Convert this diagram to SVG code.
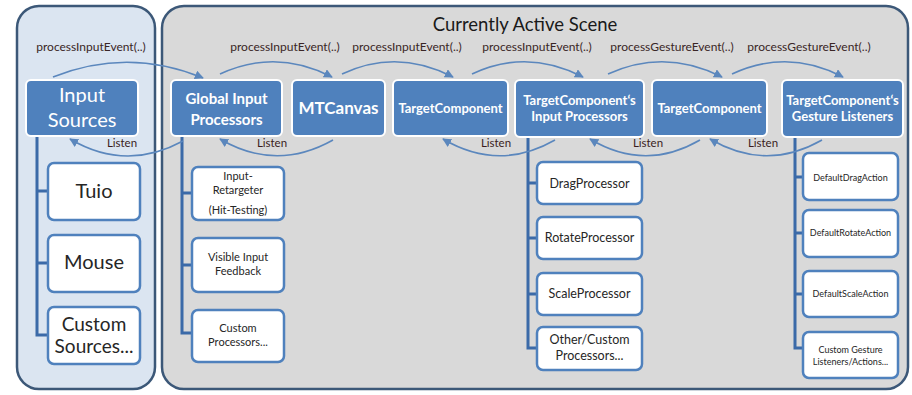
<svg xmlns="http://www.w3.org/2000/svg" width="912" height="395" viewBox="0 0 912 395">
  <style>
    text { font-family: Lato, "Open Sans", "Liberation Sans", sans-serif; text-anchor: middle; }
    .panel-src { fill: #dbe5f1; stroke: #3c5878; stroke-width: 2.5; }
    .panel-scene { fill: #d9d9d9; stroke: #3c5878; stroke-width: 2.5; }
    .head { fill: #4f81bd; stroke: #ffffff; stroke-width: 2; }
    .head-t { fill: #ffffff; font-weight: bold; }
    .item { fill: #ffffff; stroke: #4f81bd; stroke-width: 2.5; }
    .item-t { fill: #262626; }
    .tree { fill: none; stroke: #3b6aa8; stroke-width: 3; }
    .flow { fill: none; stroke: #5b87bd; stroke-width: 1.6; }
    .call { fill: #3a2626; font-size: 12px; }
    .listen { fill: #3a1c1c; font-size: 11.5px; }
    .title { fill: #1a1a1a; font-size: 18.5px; }
  </style>
  <defs>
    <marker id="arrow" viewBox="0 0 10 10" refX="9" refY="5" markerWidth="9" markerHeight="9" markerUnits="userSpaceOnUse" orient="auto">
      <path d="M0,0 L10,5 L0,10 z" fill="#5b87bd"/>
    </marker>
  </defs>

  <!-- containers -->
  <rect class="panel-src" x="17" y="6" width="138" height="383" rx="22"/>
  <rect class="panel-scene" x="162" y="6" width="746" height="383" rx="22"/>
  <text class="title" x="525" y="31">Currently Active Scene</text>

  <!-- tree branches -->
  <g id="trees">
    <path class="tree" d="M37,136 V335 H48 M37,191 H48 M37,263 H48"/>
    <path class="tree" d="M182,136 V333 H192 M182,193 H192 M182,265 H192"/>
    <path class="tree" d="M528,137 V348 H537 M528,183 H537 M528,238 H537 M528,294 H537"/>
    <path class="tree" d="M795,137 V348 H803 M795,177 H803 M795,233 H803 M795,294 H803"/>
  </g>

  <!-- input sources -->
  <g id="input-sources">
    <rect class="head" x="26" y="80" width="112" height="56" rx="5"/>
    <text class="head-t" x="82" y="102" font-size="20" style="font-weight:normal">Input</text>
    <text class="head-t" x="82" y="127" font-size="20" style="font-weight:normal">Sources</text>
  </g>
  <g id="tuio">
    <rect class="item" x="48" y="163" width="92" height="57" rx="6"/>
    <text class="item-t" x="94" y="198" font-size="20">Tuio</text>
  </g>
  <g id="mouse">
    <rect class="item" x="48" y="235" width="92" height="57" rx="6"/>
    <text class="item-t" x="94" y="269" font-size="20">Mouse</text>
  </g>
  <g id="custom-sources">
    <rect class="item" x="48" y="307" width="92" height="57" rx="6"/>
    <text class="item-t" x="94" y="331" font-size="19">Custom</text>
    <text class="item-t" x="94" y="353" font-size="19">Sources...</text>
  </g>

  <!-- global input processors -->
  <g id="global-input-processors">
    <rect class="head" x="171" y="80" width="111" height="56" rx="5"/>
    <text class="head-t" x="226.5" y="104" font-size="15">Global Input</text>
    <text class="head-t" x="226.5" y="125" font-size="15">Processors</text>
  </g>
  <g id="input-retargeter">
    <rect class="item" x="192" y="167" width="92" height="53" rx="6"/>
    <text class="item-t" x="238" y="180" font-size="11">Input-</text>
    <text class="item-t" x="238" y="194" font-size="11">Retargeter</text>
    <text class="item-t" x="238" y="214" font-size="11">(Hit-Testing)</text>
  </g>
  <g id="visible-input-feedback">
    <rect class="item" x="192" y="238" width="92" height="54" rx="6"/>
    <text class="item-t" x="238" y="261" font-size="11">Visible Input</text>
    <text class="item-t" x="238" y="275" font-size="11">Feedback</text>
  </g>
  <g id="custom-processors">
    <rect class="item" x="192" y="310" width="92" height="52" rx="6"/>
    <text class="item-t" x="238" y="332" font-size="11">Custom</text>
    <text class="item-t" x="238" y="346" font-size="11">Processors...</text>
  </g>

  <!-- canvas and components -->
  <g id="mtcanvas">
    <rect class="head" x="292" y="80" width="93" height="56" rx="5"/>
    <text class="head-t" x="338.5" y="114" font-size="17">MTCanvas</text>
  </g>
  <g id="target-component-1">
    <rect class="head" x="393" y="80" width="115" height="56" rx="5"/>
    <text class="head-t" x="450.5" y="113" font-size="13">TargetComponent</text>
  </g>
  <g id="input-processors">
    <rect class="head" x="515" y="80" width="129" height="57" rx="5"/>
    <text class="head-t" x="579.5" y="105" font-size="13">TargetComponent‘s</text>
    <text class="head-t" x="579.5" y="121" font-size="13">Input Processors</text>
  </g>
  <g id="drag-processor">
    <rect class="item" x="537" y="162" width="105" height="42" rx="6"/>
    <text class="item-t" x="589.5" y="188" font-size="12.5">DragProcessor</text>
  </g>
  <g id="rotate-processor">
    <rect class="item" x="537" y="217" width="105" height="42" rx="6"/>
    <text class="item-t" x="589.5" y="242" font-size="12.5">RotateProcessor</text>
  </g>
  <g id="scale-processor">
    <rect class="item" x="537" y="273" width="105" height="42" rx="6"/>
    <text class="item-t" x="589.5" y="298" font-size="12.5">ScaleProcessor</text>
  </g>
  <g id="other-processors">
    <rect class="item" x="537" y="327" width="105" height="43" rx="6"/>
    <text class="item-t" x="589.5" y="344" font-size="12.5">Other/Custom</text>
    <text class="item-t" x="589.5" y="360" font-size="12.5">Processors...</text>
  </g>

  <g id="target-component-2">
    <rect class="head" x="652" y="80" width="115" height="56" rx="5"/>
    <text class="head-t" x="709.5" y="113" font-size="13">TargetComponent</text>
  </g>
  <g id="gesture-listeners">
    <rect class="head" x="782" y="80" width="121" height="57" rx="5"/>
    <text class="head-t" x="842.5" y="105" font-size="13">TargetComponent‘s</text>
    <text class="head-t" x="842.5" y="121" font-size="13">Gesture Listeners</text>
  </g>
  <g id="default-drag-action">
    <rect class="item" x="803" y="153" width="95" height="47" rx="6"/>
    <text class="item-t" x="850.5" y="181" font-size="9">DefaultDragAction</text>
  </g>
  <g id="default-rotate-action">
    <rect class="item" x="803" y="210" width="95" height="47" rx="6"/>
    <text class="item-t" x="850.5" y="236" font-size="9">DefaultRotateAction</text>
  </g>
  <g id="default-scale-action">
    <rect class="item" x="803" y="271" width="95" height="46" rx="6"/>
    <text class="item-t" x="850.5" y="297" font-size="9">DefaultScaleAction</text>
  </g>
  <g id="custom-gesture-listeners">
    <rect class="item" x="803" y="332" width="95" height="46" rx="6"/>
    <text class="item-t" x="850.5" y="353" font-size="9">Custom Gesture</text>
    <text class="item-t" x="850.5" y="365" font-size="9">Listeners/Actions...</text>
  </g>

  <!-- event flow and listener registration -->
  <g id="connectors">
    <path class="flow" marker-end="url(#arrow)" d="M53,77 Q128,47 203,78"/>
    <path class="flow" marker-end="url(#arrow)" d="M220,74 Q276,48 332,77"/>
    <path class="flow" marker-end="url(#arrow)" d="M342,74 Q397,48 453,77"/>
    <path class="flow" marker-end="url(#arrow)" d="M472,74 Q527,48 583,77"/>
    <path class="flow" marker-end="url(#arrow)" d="M608,74 Q665,48 722,77"/>
    <path class="flow" marker-end="url(#arrow)" d="M732,74 Q788,48 843,77"/>

    <path class="flow" marker-end="url(#arrow)" d="M183,141 Q126,172 70,139"/>
    <path class="flow" marker-end="url(#arrow)" d="M333,140 Q276,172 220,139"/>
    <path class="flow" marker-end="url(#arrow)" d="M555,140 Q499,172 443,139"/>
    <path class="flow" marker-end="url(#arrow)" d="M700,140 Q645,172 590,139"/>
    <path class="flow" marker-end="url(#arrow)" d="M822,140 Q766,172 710,139"/>

    <text class="call" x="91" y="51">processInputEvent(..)</text>
    <text class="call" x="285" y="51">processInputEvent(..)</text>
    <text class="call" x="407" y="51">processInputEvent(..)</text>
    <text class="call" x="537" y="51">processInputEvent(..)</text>
    <text class="call" x="672" y="51">processGestureEvent(..)</text>
    <text class="call" x="809" y="51">processGestureEvent(..)</text>

    <text class="listen" x="122" y="147">Listen</text>
    <text class="listen" x="272" y="147">Listen</text>
    <text class="listen" x="496" y="147">Listen</text>
    <text class="listen" x="648" y="147">Listen</text>
    <text class="listen" x="763" y="147">Listen</text>
  </g>
</svg>
